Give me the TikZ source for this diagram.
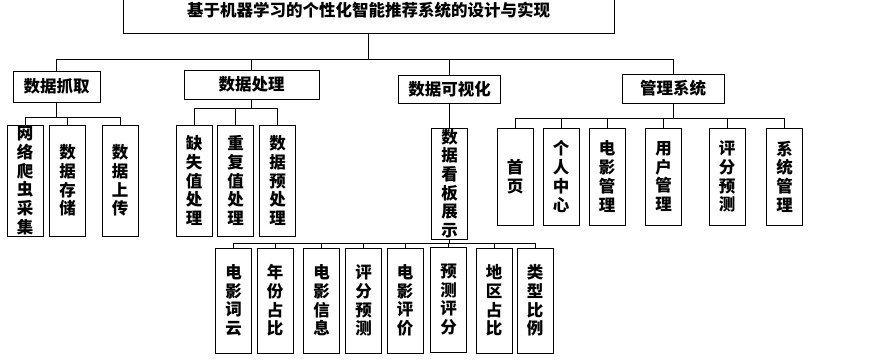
\documentclass[tikz,border=0pt]{standalone}
\usepackage{fontspec}
\setmainfont{Noto Sans CJK SC}
\usetikzlibrary{calc}

\begin{document}
\begin{tikzpicture}[x=1pt,y=-1pt,line width=0.7pt,
  box/.style={draw,font=\bfseries\fontsize{16.5}{18.7}\selectfont,align=center,inner sep=0pt},
  head/.style={box,minimum height=30pt},
  col/.style={box,minimum width=36pt}]
\useasboundingbox (0,0) rectangle (879,362);
% root
\node[box,minimum width=491pt,minimum height=46pt](root) at (368.5,10){基于机器学习的个性化智能推荐系统的设计与实现};
% level 1
\node[head,minimum width=87pt,minimum height=31pt](grab) at (56.5,86.5){数据抓取};
\node[head,minimum width=135pt,minimum height=29pt](proc) at (251.5,84.5){数据处理};
\node[head,minimum width=102pt,minimum height=28pt](vis) at (449.5,89){数据可视化};
\node[head,minimum width=102pt,minimum height=29pt](mgr) at (673,88.5){管理系统};
% data grabbing
\begin{scope}[col/.append style={minimum height=111pt}]
  \node[col](g1) at (25,180.5){网\\络\\爬\\虫\\采\\集};
  \node[col](g2) at (67.5,180.5){数\\据\\存\\储};
  \node[col](g3) at (120,180.5){数\\据\\上\\传};
% data processing
  \node[col](p1) at (194,180.5){缺\\失\\值\\处\\理};
  \node[col](p2) at (235.5,180.5){重\\复\\值\\处\\理};
  \node[col](p3) at (277.5,180.5){数\\据\\预\\处\\理};
% visualisation
  \node[col](v1) at (449.5,183.5){数\\据\\看\\板\\展\\示};
\end{scope}
% management
\begin{scope}[col/.append style={minimum height=97pt}]
  \node[col](m1) at (515,176.5){首\\页};
  \node[col](m2) at (561,176.5){个\\人\\中\\心};
  \node[col](m3) at (607,176.5){电\\影\\管\\理};
  \node[col](m4) at (663.5,176.5){用\\户\\管\\理};
  \node[col](m5) at (727,176.5){评\\分\\预\\测};
  \node[col](m6) at (784.5,176.5){系\\统\\管\\理};
\end{scope}
% dashboard
\begin{scope}[col/.append style={minimum height=105pt}]
  \node[col](d1) at (233.5,300.5){电\\影\\词\\云};
  \node[col](d2) at (275,300.5){年\\份\\占\\比};
  \node[col](d3) at (321.5,300.5){电\\影\\信\\息};
  \node[col](d4) at (363.5,300.5){评\\分\\预\\测};
  \node[col](d5) at (405,300.5){电\\影\\评\\价};
  \node[col](d6) at (448.5,299.5){预\\测\\评\\分};
  \node[col](d7) at (494,300.5){地\\区\\占\\比};
  \node[col](d8) at (535,300.5){类\\型\\比\\例};
\end{scope}
% connectors
\coordinate (b0) at (0,59);
\coordinate (b1) at (0,117);
\coordinate (b2) at (0,108);
\coordinate (b3) at (0,118);
\coordinate (b4) at (0,243);
\foreach \c in {grab,proc,vis,mgr} \draw (root.south) |- (\c.north |- b0) -- (\c.north);
\foreach \c in {g1,g2,g3} \draw (grab.south) |- (\c.north |- b1) -- (\c.north);
\foreach \c in {p1,p2,p3} \draw (proc.south) |- (\c.north |- b2) -- (\c.north);
\draw (vis.south) -- (v1.north);
\foreach \c in {m1,m2,m3,m4,m5,m6} \draw (mgr.south) |- (\c.north |- b3) -- (\c.north);
\foreach \c in {d1,d2,d3,d4,d5,d6,d7,d8} \draw (v1.south) |- (\c.north |- b4) -- (\c.north);
\end{tikzpicture}
\end{document}
